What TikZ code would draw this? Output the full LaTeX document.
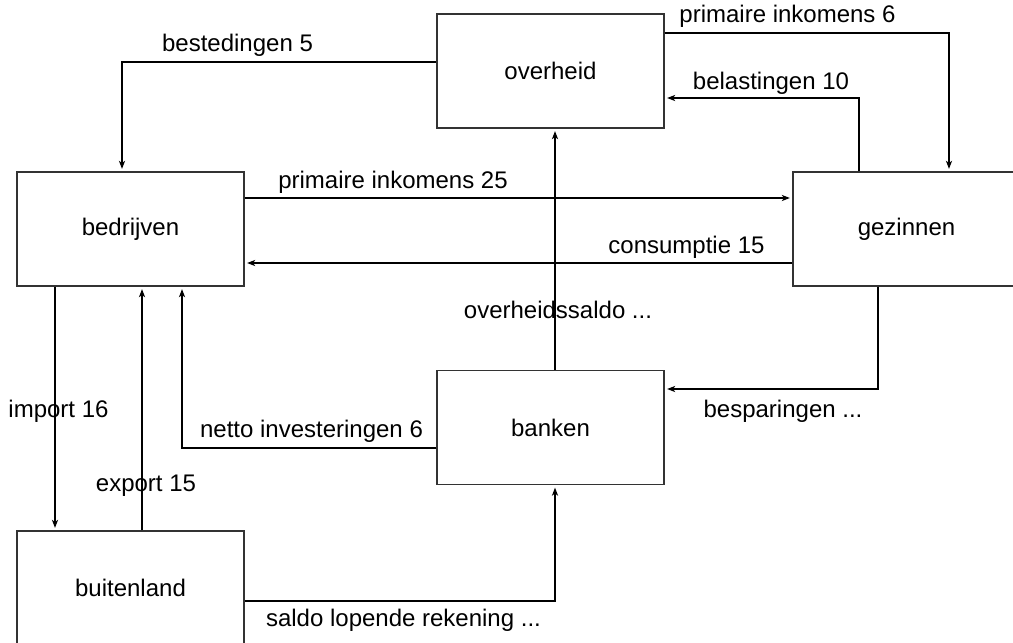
\documentclass[tikz,border=0pt]{standalone}
\usepackage{fontspec}
\setmainfont{Liberation Sans}
\usetikzlibrary{arrows.meta}
\tikzset{
  box/.style={draw=black!80, line width=1.2pt, minimum width=227pt, minimum height=114pt, inner sep=0pt},
  flow/.style={line width=1.8pt, -{Stealth[length=8pt,width=6pt,inset=2pt]}, shorten >=2.5pt},
  lbl/.style={inner sep=0pt}
}
\begin{document}
\begin{tikzpicture}[x=1pt,y=-1pt,font=\fontsize{24}{28}\selectfont]
    \useasboundingbox (0,0) rectangle (1013,643);
    %Sectoren
    \node[box] (ov) at (550.5,71) {overheid};
    \node[box] (bed) at (130.5,229) {bedrijven};
    \node[box] (gez) at (906.5,229) {gezinnen};
    \node[box] (ban) at (550.5,427.5) {banken};
    \node[box] (bui) at (130.5,588) {buitenland};
    %Overheid
    \draw[flow] ([yshift=9pt]ov.west) -| ([xshift=-8.5pt]bed.north);
    \node[lbl] (best) at (237.5,45) {bestedingen 5};
    \draw[flow] ([yshift=38pt]ov.east) -| ([xshift=42.5pt]gez.north);
    \node[lbl] (prim6) at (787.5,16) {primaire inkomens 6};
    \draw[flow] ([xshift=-47.5pt]gez.north) |- ([yshift=-27pt]ov.east);
    \node[lbl] (bel) at (771,83) {belastingen 10};
    %Bedrijven en gezinnen
    \draw[flow] ([yshift=31pt]bed.east) -- ([yshift=31pt]gez.west);
    \node[lbl] (prim25) at (393,182) {primaire inkomens 25};
    \draw[flow] ([yshift=-34pt]gez.west) -- ([yshift=-34pt]bed.east);
    \node[lbl] (cons) at (686.5,247) {consumptie 15};
    %Banken
    \draw[flow] ([xshift=4.5pt]ban.north) -- ([xshift=4.5pt]ov.south);
    \node[lbl] (saldoov) at (558,310) {overheidssaldo ...};
    \draw[flow] ([xshift=-28.5pt]gez.south) |- ([yshift=38.5pt]ban.east);
    \node[lbl] (besp) at (783,411) {besparingen ...};
    \draw[flow] ([yshift=-20.5pt]ban.west) -| ([xshift=51.5pt]bed.south);
    \node[lbl] (inv) at (311.5,431) {netto investeringen 6};
    %Buitenland
    \draw[flow] ([xshift=-75.5pt]bed.south) -- ([xshift=-75.5pt]bui.north);
    \node[lbl] (imp) at (58.5,411) {import 16};
    \draw[flow] ([xshift=11.5pt]bui.north) -- ([xshift=11.5pt]bed.south);
    \node[lbl] (exp) at (146,486) {export 15};
    \draw[flow] ([yshift=-13pt]bui.east) -| ([xshift=4.5pt]ban.south);
    \node[lbl] (lop) at (403.5,620) {saldo lopende rekening ...};
\end{tikzpicture}
\end{document}
